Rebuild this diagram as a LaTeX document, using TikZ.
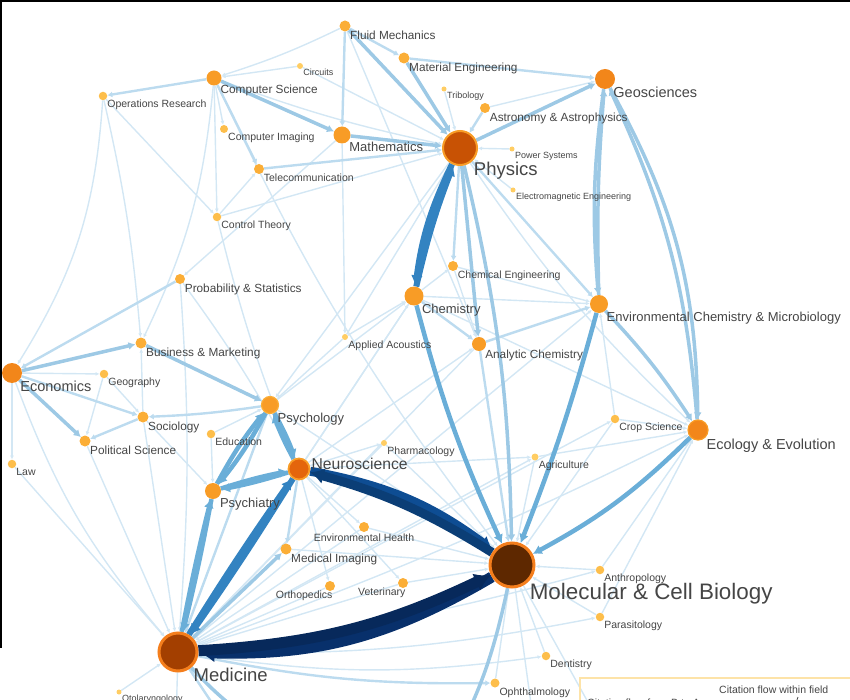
\documentclass[tikz,border=0pt]{standalone}
\usepackage{fontspec}
\setmainfont{Liberation Sans}
\usetikzlibrary{positioning,arrows.meta,backgrounds}
\definecolor{txt}{HTML}{454545}
\definecolor{dotA}{HTML}{FFCD63}
\definecolor{dotB}{HTML}{FDBE4B}
\definecolor{dotC}{HTML}{FBAE37}
\definecolor{dotD}{HTML}{F89C26}
\definecolor{dotE}{HTML}{F2861A}
\definecolor{ringO}{HTML}{F47E1C}
\definecolor{bigP}{HTML}{C85204}
\definecolor{bigN}{HTML}{E4650C}
\definecolor{bigM}{HTML}{A33F00}
\definecolor{bigC}{HTML}{5E2800}
\definecolor{flowA}{HTML}{D3E7F4}
\definecolor{flowB}{HTML}{BCDBEF}
\definecolor{flowC}{HTML}{9DC9E5}
\definecolor{flowD}{HTML}{6AAED8}
\definecolor{flowE}{HTML}{3383C1}
\definecolor{flowF}{HTML}{0E4D93}
\definecolor{flowG}{HTML}{08306B}
\definecolor{legbox}{HTML}{FDE3A8}
\tikzset{
  fXS/.style={circle,inner sep=0pt,fill=dotA,minimum size=6pt},
  fS/.style={circle,inner sep=0pt,fill=dotB,minimum size=8.5pt},
  fM/.style={circle,inner sep=0pt,fill=dotC,minimum size=11pt},
  fL/.style={circle,inner sep=0pt,fill=dotD,minimum size=16pt},
  fXL/.style={circle,inner sep=0pt,fill=dotE,minimum size=20pt},
  lbA/.style={font=\fontsize{9}{10}\selectfont,text=txt,inner sep=1pt},
  lbB/.style={font=\fontsize{10.5}{12}\selectfont,text=txt,inner sep=1pt},
  lbC/.style={font=\fontsize{11.8}{13}\selectfont,text=txt,inner sep=1pt},
  lbD/.style={font=\fontsize{13}{15}\selectfont,text=txt,inner sep=1pt},
  lbE/.style={font=\fontsize{14.5}{16}\selectfont,text=txt,inner sep=1pt},
  lbF/.style={font=\fontsize{15.7}{18}\selectfont,text=txt,inner sep=1pt},
  lbG/.style={font=\fontsize{18.5}{21}\selectfont,text=txt,inner sep=1pt},
  lbH/.style={font=\fontsize{22.4}{25}\selectfont,text=txt,inner sep=1pt},
  eA/.style={draw=flowA,line width=1.4pt,-{Latex[length=4pt,width=4pt]}},
  eB/.style={draw=flowB,line width=2.4pt,-{Latex[length=5pt,width=6pt]}},
  eC/.style={draw=flowC,line width=3.5pt,-{Latex[length=7pt,width=8pt]}},
  eD/.style={draw=flowD,line width=4.5pt,-{Latex[length=9pt,width=10pt]}},
  eE/.style={draw=flowE,line width=6pt,-{Latex[length=11pt,width=12pt]}},
  eF/.style={draw=flowF,line width=9pt,-{Latex[length=14pt,width=16pt]}},
  eG/.style={draw=flowG,line width=11pt,-{Latex[length=16pt,width=19pt]}}
}
\begin{document}
\begin{tikzpicture}[x=1pt,y=-1pt]
  \useasboundingbox (0,0) rectangle (850,700);
  \node[fM,label={[lbC]below right:Fluid Mechanics}] (flu) at (345,26) {};
  \node[fM,label={[lbC]below right:Material Engineering}] (mte) at (404,58) {};
  \node[fXS,label={[lbA]below right:Circuits}] (cir) at (300,66) {};
  \node[fL,minimum size=15pt,label={[lbC]below right:Computer Science}] (cs) at (214,78) {};
  \node[fS,label={[lbB]below right:Operations Research}] (opr) at (103,96) {};
  \node[fS,minimum size=8pt,label={[lbB]below right:Computer Imaging}] (cim) at (224,129) {};
  \node[fL,minimum size=17pt,label={[lbD]below right:Mathematics}] (mth) at (342,135) {};
  \node[fM,minimum size=10pt,label={[lbB]below right:Telecommunication}] (tel) at (259,169) {};
  \node[fS,label={[lbB]below right:Control Theory}] (ctl) at (217,217) {};
  \node[fM,minimum size=10pt,label={[lbC]below right:Probability \& Statistics}] (prb) at (180,279) {};
  \node[fM,label={[lbC]below right:Business \& Marketing}] (bus) at (141,343) {};
  \node[fXS,label={[lbB]below right:Applied Acoustics}] (aac) at (345,337) {};
  \node[fL,minimum size=19pt,label={[lbD]below right:Chemistry}] (chm) at (414,296) {};
  \node[fXL,label={[lbE]below right:Geosciences}] (geo) at (605,79) {};
  \node[fXS,minimum size=5pt,label={[lbA]below right:Tribology}] (tri) at (444,89) {};
  \node[fM,minimum size=10pt,label={[lbC]below right:Astronomy \& Astrophysics}] (ast) at (485,108) {};
  \node[circle,inner sep=0pt,minimum size=34pt,fill=bigP,draw=dotD,line width=2pt,label={[lbG]below right:Physics}] (phy) at (460,148) {};
  \node[fXS,minimum size=5pt,label={[lbA]below right:Power Systems}] (pws) at (512,149) {};
  \node[fXS,minimum size=5pt,label={[lbA]below right:Electromagnetic Engineering}] (eme) at (513,190) {};
  \node[fM,minimum size=10pt,label={[lbB]below right:Chemical Engineering}] (cen) at (453,266) {};
  \node[fL,minimum size=18pt,label={[lbD]below right:Environmental Chemistry \& Microbiology}] (enc) at (599,304) {};
  \node[fL,minimum size=14pt,label={[lbC]below right:Analytic Chemistry}] (anc) at (479,344) {};
  \node[fXL,label={[lbE]below right:Economics}] (eco) at (12,373) {};
  \node[fS,label={[lbB]below right:Geography}] (ggr) at (104,374) {};
  \node[fM,label={[lbC]below right:Sociology}] (soc) at (143,417) {};
  \node[fM,label={[lbC]below right:Political Science}] (pol) at (85,441) {};
  \node[fS,label={[lbB]below right:Law}] (law) at (12,464) {};
  \node[fL,minimum size=17pt,draw=dotC,line width=1.2pt,label={[lbD]below right:Psychology}] (psy) at (270,405) {};
  \node[fS,label={[lbB]below right:Education}] (edu) at (211,434) {};
  \node[circle,inner sep=0pt,minimum size=21pt,fill=bigN,draw=dotD,line width=1.8pt,label={[lbF,anchor=west,yshift=5pt]right:Neuroscience}] (neu) at (299,469) {};
  \node[fL,label={[lbD]below right:Psychiatry}] (psi) at (213,491) {};
  \node[fM,label={[lbC]below right:Medical Imaging}] (mim) at (286,549) {};
  \node[fM,minimum size=10pt,label={[lbB]below:Environmental Health}] (enh) at (364,527) {};
  \node[fM,minimum size=10pt,label={[lbB,anchor=north east]-45:Orthopedics}] (ort) at (330,586) {};
  \node[fM,minimum size=10pt,label={[lbB,anchor=north east]-45:Veterinary}] (vet) at (403,583) {};
  \node[circle,inner sep=0pt,minimum size=38pt,fill=bigM,draw=ringO,line width=3pt,label={[lbG]below right:Medicine}] (med) at (178,652) {};
  \node[fXS,minimum size=5pt,label={[lbA]below right:Otolaryngology}] (oto) at (119,692) {};
  \node[fXS,label={[lbB]below right:Pharmacology}] (pha) at (384,443) {};
  \node[fXS,minimum size=7pt,label={[lbB]below right:Agriculture}] (agr) at (535,457) {};
  \node[fS,label={[lbB]below right:Crop Science}] (crp) at (615,419) {};
  \node[fXL,draw=dotD,line width=1.2pt,label={[lbE]below right:Ecology \& Evolution}] (evo) at (698,430) {};
  \node[circle,inner sep=0pt,minimum size=44pt,fill=bigC,draw=ringO,line width=3pt,label={[lbH]below right:Molecular \& Cell Biology}] (mcb) at (512,565) {};
  \node[fS,label={[lbB]below right:Anthropology}] (ant) at (600,570) {};
  \node[fS,label={[lbB]below right:Parasitology}] (par) at (600,617) {};
  \node[fS,label={[lbB]below right:Dentistry}] (den) at (546,656) {};
  \node[fS,minimum size=9pt,label={[lbB]below right:Ophthalmology}] (oph) at (495,683) {};
  \coordinate (offA) at (370,760);
  \coordinate (offB) at (430,780);
  \coordinate (offC) at (250,760);
  \coordinate (offD) at (175,760);
  \coordinate (offE) at (540,770);
  \coordinate (offF) at (620,760);
  \begin{scope}[on background layer]
    \foreach \s/\t/\b in {flu/cs/4,cir/cs/0,cir/phy/0,cs/phy/-4,cs/cim/0,cs/ctl/0,cs/bus/10,cs/mcb/-6,
      opr/ctl/0,opr/bus/4,opr/eco/14,ctl/tel/0,ctl/phy/0,ctl/neu/-4,mth/prb/0,mth/aac/0,flu/anc/0,
      tri/phy/0,pws/phy/0,eme/phy/0,ast/geo/0,phy/psy/0,phy/evo/-6,chm/cen/0,chm/enc/0,chm/med/0,
      cen/enc/0,cen/anc/0,aac/psy/0,aac/chm/0,aac/phy/0,prb/med/4,prb/neu/4,eco/ggr/0,eco/law/0,
      eco/med/-10,ggr/pol/0,ggr/soc/0,soc/bus/0,soc/med/0,soc/psi/0,pol/med/0,law/med/0,edu/psy/0,
      edu/psi/0,psy/chm/0,psy/mcb/0,neu/enh/0,neu/pha/0,neu/anc/0,neu/agr/0,neu/ort/0,neu/vet/0,
      neu/chm/0,enh/mcb/0,enh/med/0,vet/mcb/0,vet/med/0,ort/med/0,pha/mcb/0,pha/med/0,agr/mcb/0,
      agr/evo/0,crp/mcb/0,crp/evo/0,crp/enc/0,ant/mcb/0,ant/evo/0,par/mcb/0,par/evo/0,den/mcb/0,
      oph/mcb/0,med/den/-8,med/par/-6,med/ant/-4,med/agr/0,med/evo/-3,med/enc/0,med/crp/0,oto/med/0,
      med/offD/0,mcb/offE/0,mim/mcb/0,anc/med/0,chm/evo/0,mcb/offF/0}
      \draw[eA] (\s) to[bend left=\b] (\t);
    \foreach \s/\t/\b in {cs/opr/0,cs/tel/0,flu/mth/0,flu/mte/0,mte/geo/0,ast/phy/0,chm/anc/0,
      phy/cen/0,phy/enc/0,tel/phy/0,soc/pol/0,psy/soc/3,eco/soc/0,med/oph/-6,anc/mcb/0,anc/enc/0,
      prb/eco/0,psy/med/0,neu/mim/0,med/offC/0}
      \draw[eB] (\s) to[bend left=\b] (\t);
    \foreach \s/\t/\b in {flu/phy/0,mte/phy/0,mth/phy/0,cs/mth/0,phy/geo/0,phy/anc/0,phy/mcb/6,
      geo/evo/14,evo/geo/-10,geo/enc/-6,enc/geo/3,enc/evo/5,med/mim/0,eco/bus/0,eco/pol/0,
      bus/psy/0,med/offA/-20,mcb/offB/10}
      \draw[eC] (\s) to[bend left=\b] (\t);
    \foreach \s/\t/\b in {psy/neu/4,neu/psy/4,psy/psi/5,psi/psy/5,psi/neu/3,neu/psi/3,
      med/psi/1.5,psi/med/1.5,chm/mcb/-5,enc/mcb/3,evo/mcb/8}
      \draw[eD] (\s) to[bend left=\b] (\t);
    \foreach \s/\t/\b in {phy/chm/-9,chm/phy/4,med/neu/1.5,neu/med/1.5}
      \draw[eE] (\s) to[bend left=\b] (\t);
    \draw[eF] (neu) to[bend left=13] (mcb);
    \draw[eF,draw=flowF!80!black] (mcb) to[bend right=8] (neu);
    \draw[eG] (mcb) to[bend left=16] (med);
    \draw[eG,draw=flowG!85!black] (med) to[bend right=11] (mcb);
  \end{scope}
  \draw[line width=4pt] (0,648) -- (0,0) -- (850,0);
  \draw[legbox,line width=1.5pt] (580,678) rectangle (900,760);
  \node[lbB,anchor=west] (legin) at (718,690) {Citation flow within field};
  \node[lbB,anchor=west] (legbt) at (586,703) {Citation flow from B to A};
  \coordinate (tkA) at (798,697);
  \coordinate (tkB) at (794,708);
  \draw[txt,line width=0.8pt] (tkA) -- (tkB);
\end{tikzpicture}
\end{document}
